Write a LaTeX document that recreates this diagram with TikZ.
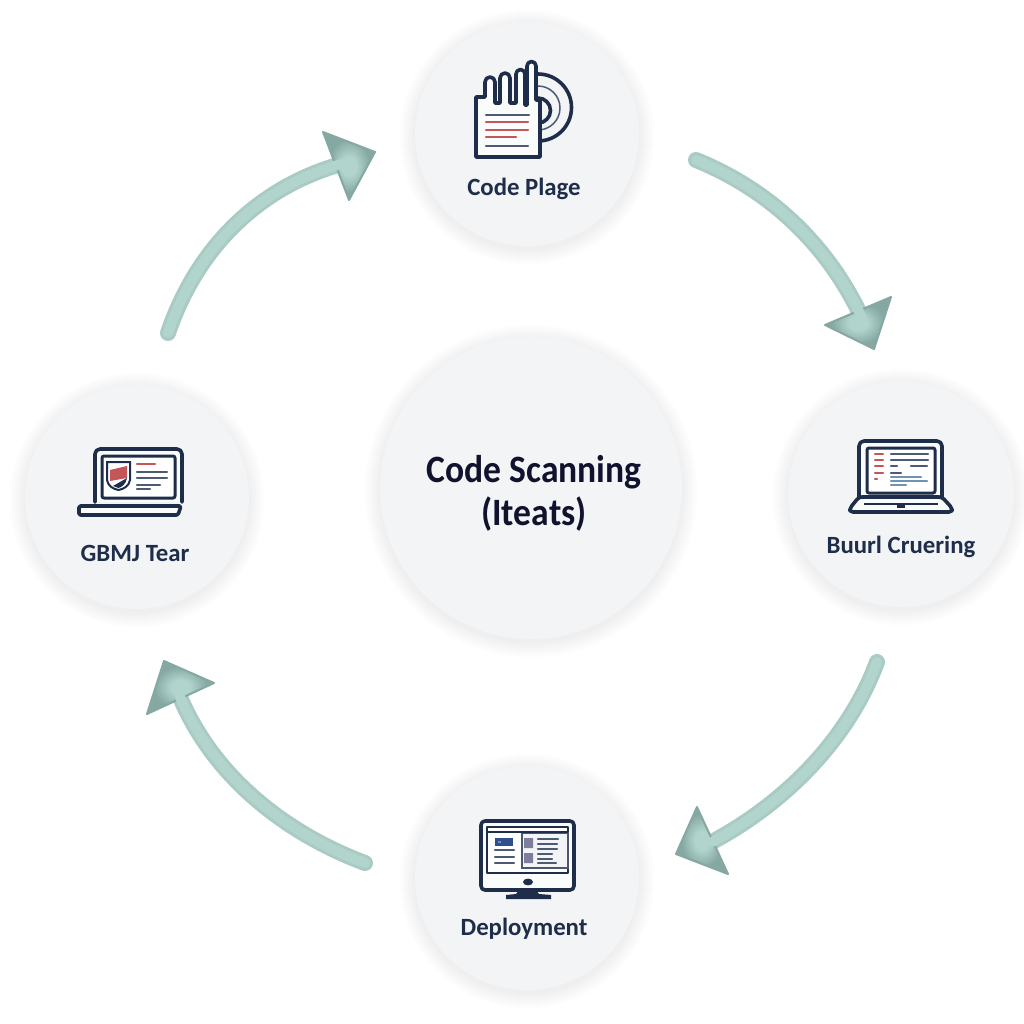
\documentclass[tikz,border=0pt]{standalone}
\usepackage{fontspec}
\setmainfont{Carlito}
\newfontfamily\mainface[FakeStretch=0.92]{Carlito}
\definecolor{navy}{HTML}{1E2D4A}
\definecolor{deep}{HTML}{10122E}
\definecolor{disc}{HTML}{F3F4F6}
\definecolor{redln}{HTML}{C4565A}
\definecolor{greyln}{HTML}{4C5B73}
\definecolor{blueln}{HTML}{6E93B5}
\definecolor{armout}{HTML}{A9CBC4}
\definecolor{armin}{HTML}{B1D4CC}
\definecolor{armedge}{HTML}{86A8A3}
\definecolor{tile}{HTML}{7D7D9C}
\definecolor{tab}{HTML}{2F4F8F}
\pgfdeclareradialshading{headsh}{\pgfpoint{0bp}{0bp}}{color(0bp)=(armin); color(7bp)=(armin); color(20bp)=(armedge); color(50bp)=(armedge)}
\newcommand{\pxw}[1]{#1*0.2845pt}
\tikzset{
  disccirc/.style={circle,fill=disc,inner sep=0pt,minimum size=#1*0.01cm},
  lab/.style={text=navy,font=\bfseries\fontsize{7.05pt}{8pt}\selectfont,inner sep=0pt},
  mainlab/.style={text=deep,font=\mainface\bfseries\fontsize{11pt}{12.2pt}\selectfont,align=center,inner sep=0pt},
  ico/.style={draw=navy,line width=\pxw{3.6},line join=round,line cap=round},
  thinln/.style={line width=\pxw{2.4},line cap=round},
  rd/.style={thinln,draw=redln},
  gr/.style={thinln,draw=greyln},
  bl/.style={thinln,draw=blueln}
}
\newcommand{\softshadow}[3]{%
  \foreach \k in {1,...,16}{\fill[black,opacity=0.0022] (#1,#2+3) circle[radius=#3+\k];}}
\newcommand{\flow}[1]{%
  \draw[armout,line width=\pxw{16},line cap=round] (#1s) .. controls (#1p) and (#1q) .. (#1e);
  \path[draw=armedge,line width=\pxw{2},line join=round,shading=headsh] (#1t) -- (#1u) -- (#1v) -- cycle;
  \draw[armin,line width=\pxw{10},line cap=round] (#1s) .. controls (#1p) and (#1q) .. (#1e);}
\begin{document}
\begin{tikzpicture}[x=0.01cm,y=-0.01cm]
\useasboundingbox (0,0) rectangle (1024,1024);
\fill[white] (0,0) rectangle (1024,1024);
% shadows
\softshadow{531}{488}{151}
\softshadow{527}{134}{112}
\softshadow{901}{494}{113}
\softshadow{137}{497}{112}
\softshadow{527}{878}{112}
% discs
\node[disccirc=302] (centre) at (531,488) {};
\node[disccirc=224] (top) at (527,134) {};
\node[disccirc=226] (right) at (901,494) {};
\node[disccirc=224] (left) at (137,497) {};
\node[disccirc=224] (bottom) at (527,878) {};
\node[mainlab] (lcentre) at (534,493) {Code Scanning\\(Iteats)};
\node[lab] (ltop) at (524,189) {Code Plage};
\node[lab] (lleft) at (135,553) {GBMJ Tear};
\node[lab] (lright) at (901,547) {Buurl Cruering};
\node[lab] (lbottom) at (524,929) {Deployment};
% arrows
\coordinate (as) at (168,333); \coordinate (ap) at (198,245); \coordinate (aq) at (262,185); \coordinate (ae) at (345,163);
\coordinate (at) at (375,152); \coordinate (au) at (323,132); \coordinate (av) at (349,200);
\coordinate (bs) at (696,160); \coordinate (bp) at (770,190); \coordinate (bq) at (828,245); \coordinate (be) at (862,318);
\coordinate (bt) at (874,349); \coordinate (bu) at (825,325); \coordinate (bv) at (891,297);
\coordinate (cs) at (877,662); \coordinate (cp) at (850,735); \coordinate (cq) at (790,800); \coordinate (ce) at (712,842);
\coordinate (ct) at (676,854); \coordinate (cu) at (697,807); \coordinate (cv) at (728,874);
\coordinate (ds) at (365,863); \coordinate (dp) at (290,835); \coordinate (dq) at (215,780); \coordinate (de) at (180,697);
\coordinate (dt) at (164,661); \coordinate (du) at (147,714); \coordinate (dv) at (214,683);
\flow{a}\flow{b}\flow{c}\flow{d}
% icon: top
\draw[ico] (538,74) arc[start angle=-90,end angle=90,radius=33.5];
\draw[draw=greyln,line width=\pxw{1.5}] (538,86) arc[start angle=-90,end angle=90,radius=22];
\draw[ico] (538,98) arc[start angle=-90,end angle=90,radius=12.5];
\draw[ico,fill=white!60!disc] (476,157) -- (476,97) -- (485,97) -- (485,82) arc[start angle=180,end angle=360,radius=5] -- (495,103) -- (500,103) -- (500,78) arc[start angle=180,end angle=360,radius=5] -- (510,103) -- (516,103) -- (516,74) arc[start angle=180,end angle=360,radius=4.5] -- (525,105) -- (527,105) -- (527,66) arc[start angle=180,end angle=360,radius=4.5] -- (536,100) -- (540,100) -- (540,157) -- cycle;
\draw[gr] (486,115) -- (529,115);
\draw[rd] (486,122) -- (528,122) (486,130) -- (528,130) (486,137) -- (516,137);
\draw[gr] (486,146) -- (528,146);
% icon: left
\draw[ico,rounded corners=\pxw{5},fill=white!60!disc] (95,502) -- (95,449) -- (182,449) -- (182,502);
\draw[ico,line width=\pxw{3},rounded corners=\pxw{2},fill=white] (102,456) rectangle (175,498);
\draw[ico,rounded corners=\pxw{1.5},fill=white!60!disc] (79,506) -- (181,506) -- (178,515) -- (79,515) -- cycle;
\draw[navy,line width=\pxw{2},fill=white] (107,462) -- (130,462) -- (130,480) .. controls (129,486) and (124,489) .. (118.5,490) .. controls (113,489) and (108,486) .. (107,480) -- cycle;
\fill[redln] (110,470) -- (127,466) -- (127,478) -- (110,481) -- cycle;
\fill[navy] (113,486) -- (127,478) .. controls (126,484) and (122,487) .. (118.5,488) -- cycle;
\draw[rd] (137,464) -- (155,464);
\draw[gr] (137,472) -- (167,472) (137,478) -- (167,478) (137,485) -- (160,485) (137,489) -- (150,489);
% icon: right
\draw[ico,rounded corners=\pxw{5},fill=white!60!disc] (859,497) -- (859,441) -- (942,441) -- (942,497);
\draw[ico,line width=\pxw{3},rounded corners=\pxw{2},fill=white] (867,448) rectangle (935,493);
\draw[ico,rounded corners=\pxw{3},fill=white!60!disc] (859,497) -- (850,508) -- (850,512) -- (952,512) -- (952,508) -- (942,497) -- cycle;
\draw[navy,line width=\pxw{2.6}] (864,504) -- (938,504);
\fill[navy] (897,503) rectangle (905,508);
\draw[rd] (875,454) -- (883,454) (875,460) -- (883,460) (875,466) -- (883,466) (875,473) -- (883,473) (875,479) -- (877,479);
\draw[gr] (891,454) -- (928,454) (891,460) -- (928,460) (891,466) -- (897,466) (911,466) -- (927,466) (891,473) -- (901,473);
\draw[bl] (891,477) -- (921,477) (891,481) -- (927,481) (891,485) -- (906,485);
% icon: bottom
\draw[ico,rounded corners=\pxw{4},fill=white!60!disc] (481,821) rectangle (574,890);
\draw[ico,line width=\pxw{2.6},fill=white] (487,827) rectangle (568,873);
\draw[line width=\pxw{2},draw=navy!80,fill=disc] (522,833) rectangle (568,868);
\draw[navy,line width=\pxw{1.5}] (487,832) -- (568,832);
\fill[navy] (528,882) ellipse[x radius=5,y radius=3.4];
\fill[navy] (519,890) -- (536,890) -- (539,894) -- (551,895) -- (551,899) -- (506,899) -- (506,895) -- (516,894) -- cycle;
\fill[tab] (495,838) rectangle (513,846);
\fill[blueln] (498,841) rectangle (501,843);
\draw[gr] (495,850) -- (514,850) (495,857) -- (514,857) (495,863) -- (514,863);
\fill[tile] (524,838) rectangle (533,848) (524,853) rectangle (533,863);
\draw[gr] (538,839) -- (558,839) (538,844) -- (557,844) (538,849) -- (557,849) (538,854) -- (552,854) (538,859) -- (552,859) (538,863) -- (556,863);
\end{tikzpicture}
\end{document}
